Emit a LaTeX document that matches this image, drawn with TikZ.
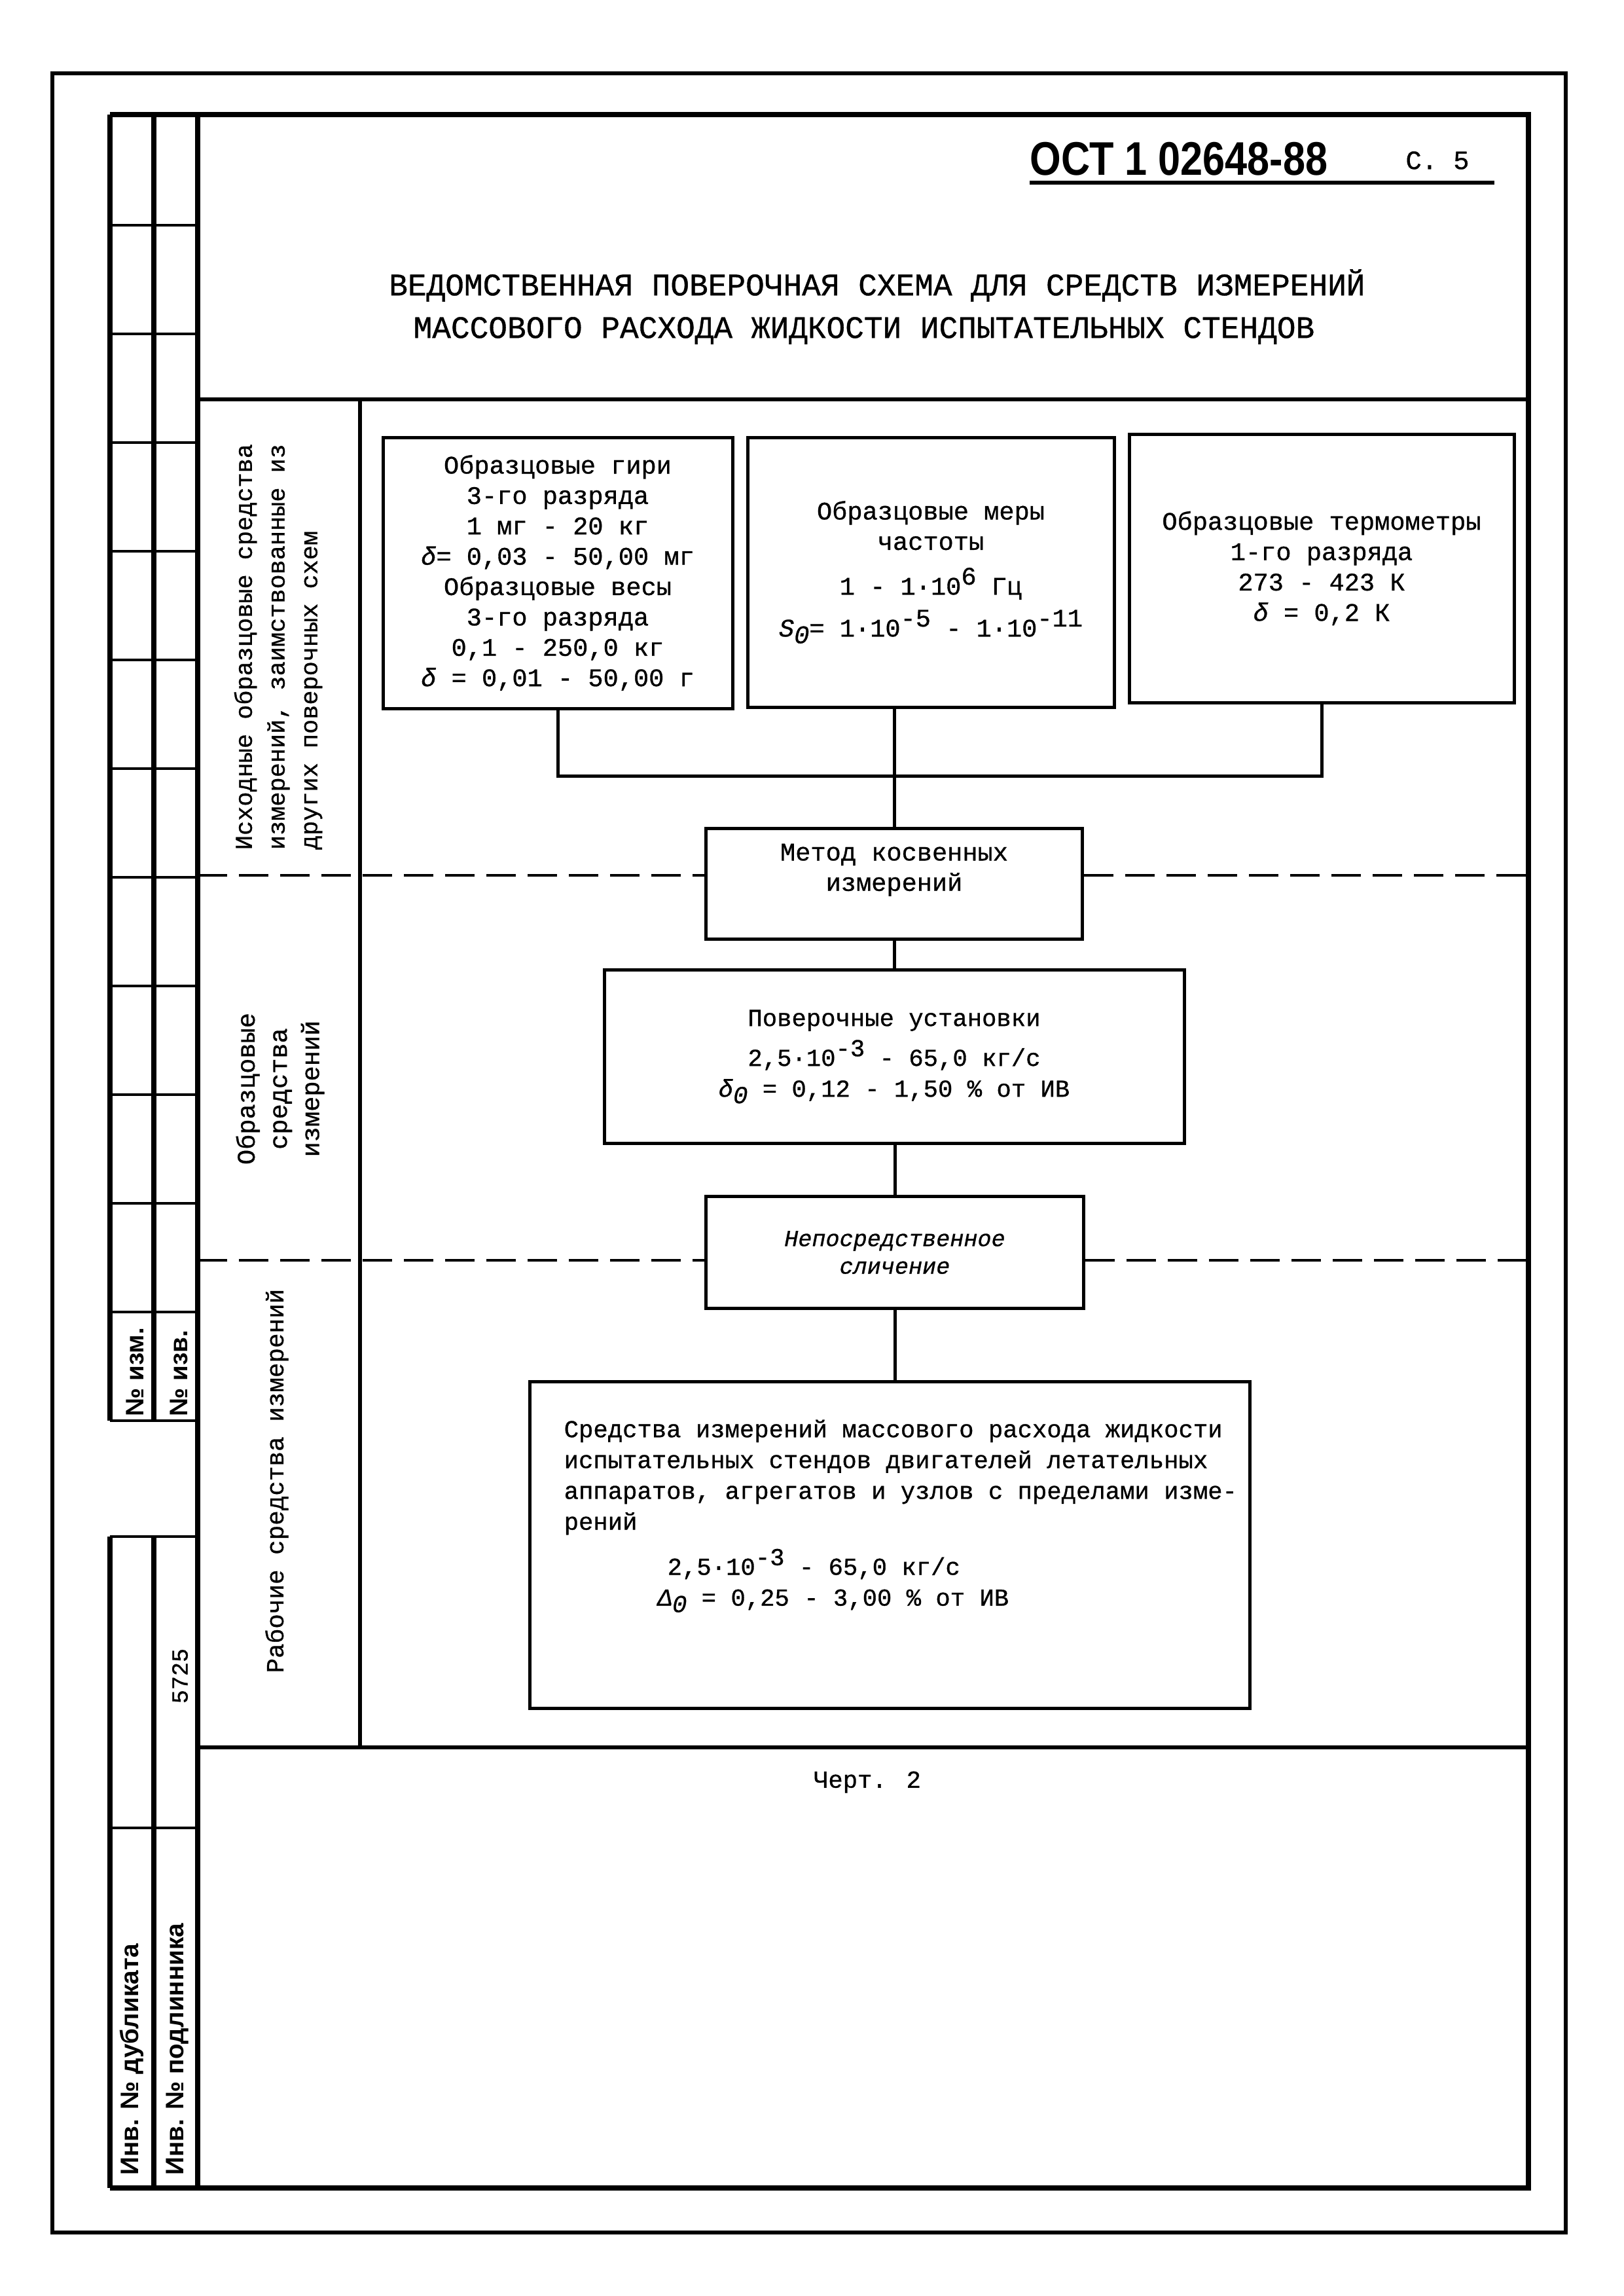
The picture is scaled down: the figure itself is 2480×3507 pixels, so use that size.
\documentclass[tikz,border=0pt]{standalone}
\usepackage{fontspec}
\usepackage{graphicx}
\setmainfont{Liberation Mono}[FakeBold=0.8]
\newfontfamily\hdfont{Liberation Sans}
\newcommand\upr[1]{\raisebox{0.75ex}{#1}}
\newcommand\dnr[1]{\raisebox{-0.5ex}{\itshape #1}}
\begin{document}
\begin{tikzpicture}[x=0.1mm,y=-0.1mm,
  outerln/.style={line width=0.6mm},
  frm/.style={line width=0.85mm},
  inner/.style={line width=0.6mm},
  cell/.style={line width=0.4mm},
  boxn/.style={draw, line width=0.5mm, inner sep=0pt, align=center},
  conn/.style={line width=0.5mm},
  dsh/.style={line width=0.45mm, dash pattern=on 4.5mm off 1.8mm},
  fa/.style={font=\fontsize{11pt}{13.2pt}\selectfont},
  fb/.style={font=\fontsize{10.6pt}{13.4pt}\selectfont},
  lbl/.style={inner sep=0pt, rotate=90},
  strp/.style={inner sep=0pt, rotate=90, anchor=west, font=\hdfont\bfseries\fontsize{11pt}{12pt}\selectfont}
]
\useasboundingbox (0,0) rectangle (2480,3507);
\fill[white] (0,0) rectangle (2480,3507);

% outer sheet border
\draw[outerln] (80,112) rectangle (2392,3410);

% main frame
\draw[frm] (168,175) -- (2335,175) -- (2335,3342) -- (168,3342);
\draw[frm] (302,175) -- (302,3342);
\draw[frm] (168,175) -- (168,2170);
\draw[frm] (235,175) -- (235,2170);
\draw[frm] (168,2347) -- (168,3342);
\draw[frm] (235,2347) -- (235,3342);
\foreach \k in {1,...,12} \draw[cell] (168,{178+166*\k}) -- (302,{178+166*\k});
\draw[cell] (168,2347) -- (302,2347);
\draw[cell] (168,2792) -- (302,2792);
\draw[inner] (302,610) -- (2335,610);
\draw[inner] (550,610) -- (550,2669);
\draw[inner] (302,2669) -- (2335,2669);

% strip texts
\node[strp] (nizm) at (206,2164) {№ изм.};
\node[strp] (nizv) at (273,2164) {№ изв.};
\node[lbl, font=\fontsize{10pt}{12pt}\selectfont] (num) at (275,2560) {5725};
\node[strp] (invd) at (201,3323) {Инв. № дубликата};
\node[strp] (invp) at (271,3323) {Инв. № подлинника};

% header
\node[inner sep=0pt, font=\hdfont\bfseries\fontsize{20.5pt}{22pt}\selectfont] (ost) at (1801,243) {\scalebox{0.85}[1]{ОСТ 1 02648-88}};
\node[inner sep=0pt, font=\fontsize{11.5pt}{13pt}\selectfont] (pg) at (2196,245) {С. 5};
\coordinate (ul1) at (1573,279);
\coordinate (ul2) at (2283,279);
\draw[line width=0.6mm] (ul1) -- (ul2);
\node[inner sep=0pt, font=\fontsize{13.6pt}{16pt}\selectfont] (t1) at (1340,436) {ВЕДОМСТВЕННАЯ ПОВЕРОЧНАЯ СХЕМА ДЛЯ СРЕДСТВ ИЗМЕРЕНИЙ};
\node[inner sep=0pt, font=\fontsize{13.6pt}{16pt}\selectfont] (t2) at (1320,505) {МАССОВОГО РАСХОДА ЖИДКОСТИ ИСПЫТАТЕЛЬНЫХ СТЕНДОВ};

% row labels
\node[lbl, align=left, font=\fontsize{10.5pt}{14.2pt}\selectfont] (r1) at (425,988)
  {Исходные образцовые средства\\измерений, заимствованные из\\других поверочных схем};
\node[lbl, align=center, font=\fontsize{11pt}{14pt}\selectfont] (r2) at (428,1663)
  {Образцовые\\средства\\измерений};
\node[lbl, font=\fontsize{10.7pt}{13pt}\selectfont] (r3) at (423,2262) {Рабочие средства измерений};

% top boxes
\node[boxn, fa, minimum width=53.4mm, minimum height=41.4mm] (b1) at (852,875)
  {Образцовые гири\\3-го разряда\\1 мг - 20 кг\\{\itshape δ}= 0,03 - 50,00 мг\\Образцовые весы\\3-го разряда\\0,1 - 250,0 кг\\{\itshape δ} = 0,01 - 50,00 г};
\node[boxn, fa, minimum width=56mm, minimum height=41.2mm] (b2) at (1422,874)
  {Образцовые меры\\частоты\\[2.2mm]1 - 1·10\upr{6} Гц\\[1.2mm]{\itshape S}\dnr{0}= 1·10\upr{-5} - 1·10\upr{-11}};
\node[boxn, fa, minimum width=58.8mm, minimum height=41mm] (b3) at (2019,868)
  {Образцовые термометры\\1-го разряда\\273 - 423 К\\{\itshape δ} = 0,2 К};

% chain
\node[boxn, fa, minimum width=57.5mm, minimum height=16.9mm] (metod) at (1366,1350)
  {Метод косвенных\\измерений\\[0.4mm]};
\node[boxn, fb, minimum width=88.6mm, minimum height=26.5mm] (pover) at (1366,1614)
  {Поверочные установки\\[1mm]2,5·10\upr{-3} - 65,0 кг/с\\{\itshape δ}\dnr{0} = 0,12 - 1,50 \% от ИВ};
\node[boxn, fb, font=\itshape, minimum width=57.7mm, minimum height=17.1mm] (nepos) at (1367,1913)
  {Непосредственное\\сличение};
\node[draw, line width=0.5mm, inner sep=0pt, minimum width=110mm, minimum height=49.9mm] (big) at (1359,2360) {};
\node[inner sep=0pt, anchor=north west, align=left, fb] (bigtxt) at (861,2168)
  {Средства измерений массового расхода жидкости\\
   испытательных стендов двигателей летательных\\
   аппаратов, агрегатов и узлов с пределами изме-\\
   рений\\[1.8mm]
   \hspace*{15.8mm}2,5·10\upr{-3} - 65,0 кг/с\\
   \hspace*{14.3mm}{\itshape Δ}\dnr{0} = 0,25 - 3,00 \% от ИВ};

% connectors
\coordinate (jn) at (1366,1185);
\draw[conn] (b1.south) -- (b1.south |- jn) -- (b3.south |- jn) -- (b3.south);
\draw[conn] (metod.north) -- (metod.north |- b2.south);
\draw[conn] (metod.south) -- (pover.north -| metod.south);
\draw[conn] (pover.south -| nepos.north) -- (nepos.north);
\draw[conn] (nepos.south) -- (big.north -| nepos.south);

% dashed row separators
\coordinate (d1) at (302,1337);
\coordinate (d1r) at (2335,1337);
\coordinate (d2) at (302,1925);
\coordinate (d2r) at (2335,1925);
\draw[dsh] (d1) -- (d1 -| metod.west);
\draw[dsh] (d1 -| metod.east) -- (d1r);
\draw[dsh] (d2) -- (d2 -| nepos.west);
\draw[dsh] (d2 -| nepos.east) -- (d2r);

% caption
\node[inner sep=0pt, fb] (cap) at (1325,2722) {Черт. 2};
\end{tikzpicture}
\end{document}
